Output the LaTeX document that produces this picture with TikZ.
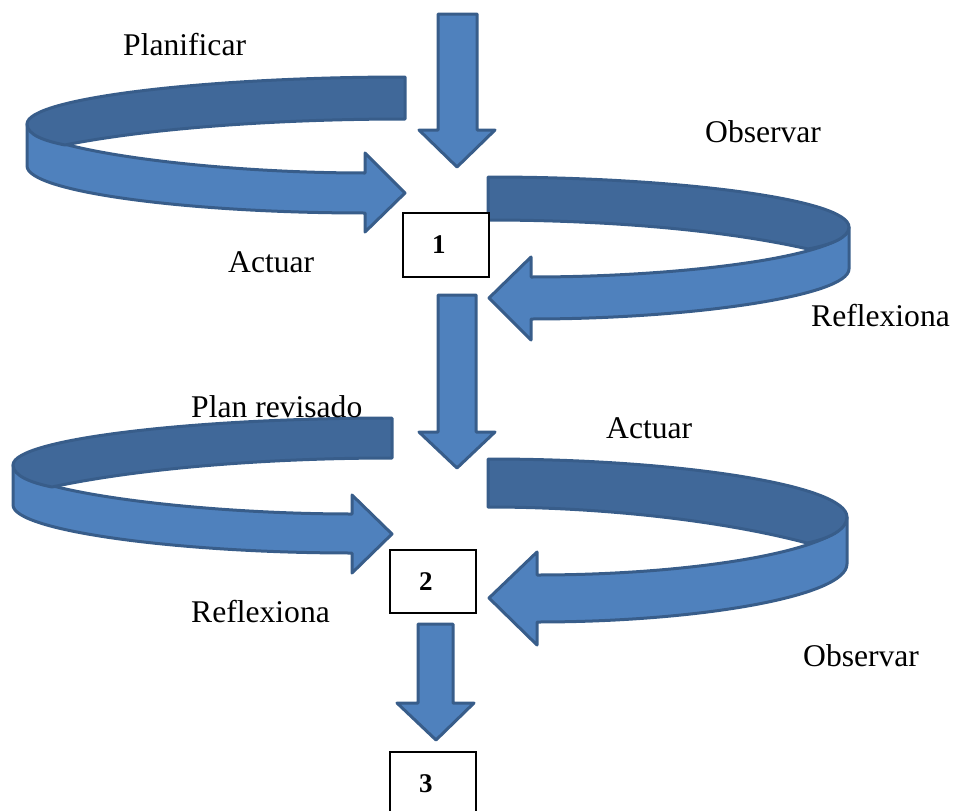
\documentclass[tikz,border=0pt]{standalone}
\usepackage{fontspec}
\setmainfont{Liberation Serif}
\usetikzlibrary{positioning,calc}
\definecolor{loopblue}{RGB}{79,129,189}
\definecolor{loopdark}{RGB}{64,104,153}
\definecolor{loopline}{RGB}{56,93,138}

\begin{document}
\begin{tikzpicture}[
        x=1pt, y=-1pt,
        every node/.style={font=\fontsize{31.6}{38}\selectfont},
        front/.style={fill=loopblue, draw=loopline, line width=3pt, line join=round},
        back/.style={fill=loopdark, draw=loopline, line width=3pt, line join=round},
        numbox/.style={rectangle, draw, fill=white, line width=1.5pt, minimum height=64pt, inner xsep=29pt, text width=28pt, align=left, font=\fontsize{27}{30}\selectfont\bfseries},
        lbl/.style={anchor=base west, inner sep=0pt}
    ]
        \useasboundingbox (0,0) rectangle (954,811);

        % straight arrows down the middle
        \draw[front] (438,14) -- (477,14) -- (477,130) -- (495,130) -- (457,167) -- (419,130) -- (438,130) -- cycle;
        \draw[front] (438,295) -- (476,295) -- (476,432) -- (495,432) -- (457,468) -- (419,432) -- (438,432) -- cycle;
        \draw[front] (418,624) -- (453,624) -- (453,703) -- (474,703) -- (436,740) -- (397,703) -- (418,703) -- cycle;

        % first cycle, left loop
        \draw[front] (27,124) .. controls (27,148) and (200,173) .. (365,173) -- (365,153) -- (405,193) -- (365,232) -- (365,213)
            .. controls (190,213) and (27,192) .. (27,166) -- cycle;
        \draw[back] (405,77) .. controls (208,77) and (27,98) .. (27,124) .. controls (27,135) and (45,141) .. (65,145)
            .. controls (150,128) and (280,119) .. (405,119) -- cycle;

        % first cycle, right loop
        \draw[front] (849,227) .. controls (849,255) and (690,277) .. (531,277) -- (531,257) -- (489,298) -- (531,340) -- (531,319)
            .. controls (690,319) and (849,296) .. (849,269) -- cycle;
        \draw[back] (488,177) .. controls (675,177) and (849,199) .. (849,227) .. controls (849,238) and (830,245) .. (808,249)
            .. controls (720,229) and (600,220) .. (488,220) -- cycle;

        % second cycle, left loop
        \draw[front] (13,465) .. controls (13,490) and (190,514) .. (352,514) -- (352,495) -- (392,534) -- (352,573) -- (352,553)
            .. controls (180,553) and (13,531) .. (13,505) -- cycle;
        \draw[back] (392,418) .. controls (195,418) and (13,439) .. (13,465) .. controls (13,476) and (32,483) .. (52,487)
            .. controls (140,468) and (270,458) .. (392,458) -- cycle;

        % second cycle, right loop
        \draw[front] (847,517) .. controls (847,549) and (700,575) .. (537,575) -- (537,552) -- (489,598) -- (537,645) -- (537,622)
            .. controls (700,622) and (847,596) .. (847,564) -- cycle;
        \draw[back] (488,459) .. controls (678,459) and (847,485) .. (847,517) .. controls (847,530) and (828,539) .. (807,543)
            .. controls (720,520) and (600,507) .. (488,507) -- cycle;

        % stages
        \node[numbox] (stage1) at (446,245) {1};
        \node[numbox, minimum height=63pt] (stage2) at (433,581.5) {2};
        \node[numbox] (stage3) at (433,784) {3};

        % phase labels
        \node[lbl] (plan1) at (123,56) {Planificar};
        \node[lbl] (obs1) at (705,142) {Observar};
        \node[lbl] (act1) at (228,272) {Actuar};
        \node[lbl] (refl1) at (811,326) {Reflexiona};
        \node[lbl] (plan2) at (191,417) {Plan revisado};
        \node[lbl] (act2) at (606,438) {Actuar};
        \node[lbl] (refl2) at (191,622) {Reflexiona};
        \node[lbl] (obs2) at (803,666) {Observar};
    \end{tikzpicture}
\end{document}
